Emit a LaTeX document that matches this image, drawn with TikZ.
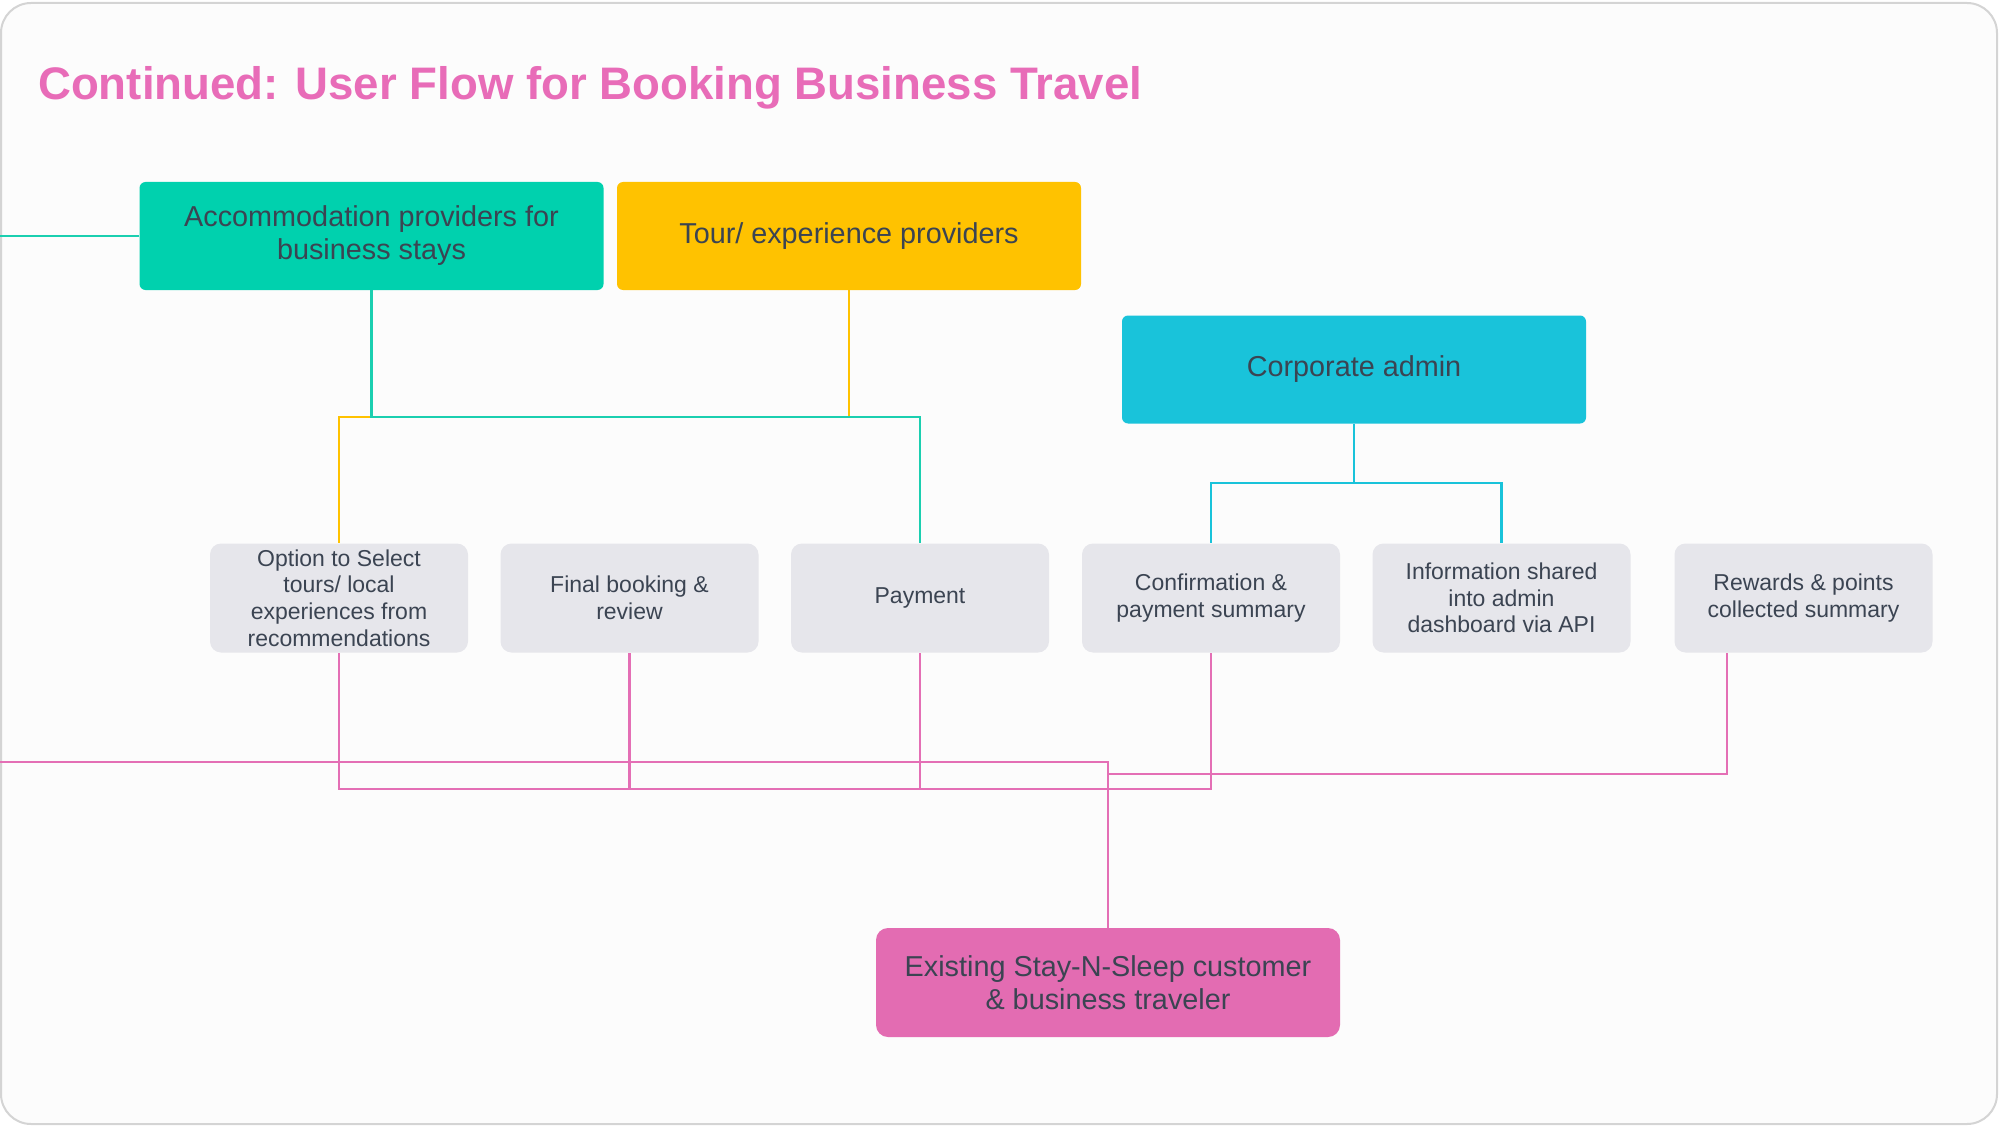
\documentclass[tikz,border=0pt]{standalone}
\usepackage{fontspec}
\setmainfont{Liberation Sans}
\begin{document}
\begin{tikzpicture}[x=1pt,y=-1pt,
  box/.style={rounded corners=6pt,inner sep=0pt,align=center,text=txt,
    font=\fontsize{28.8}{33}\selectfont,minimum width=464pt,minimum height=108pt},
  gbox/.style={rounded corners=11pt,inner sep=0pt,align=center,text=txt,fill=grayb,
    font=\fontsize{23}{26.7}\selectfont,minimum width=258pt,minimum height=109pt},
  conn/.style={line width=2.2pt},
]
\definecolor{txt}{HTML}{3B4452}
\definecolor{tealc}{HTML}{00D1AE}
\definecolor{teall}{HTML}{1BCFB0}
\definecolor{yell}{HTML}{FFC200}
\definecolor{cyanc}{HTML}{19C3DA}
\definecolor{pinkc}{HTML}{E36CB2}
\definecolor{pinkl}{HTML}{E46FB5}
\definecolor{grayb}{HTML}{E6E6EB}
\definecolor{titlec}{HTML}{E86CB8}
\definecolor{bgc}{HTML}{FCFCFC}
\definecolor{framec}{HTML}{D4D4D4}
\useasboundingbox (0,0) rectangle (2000,1126);
\draw[framec,fill=bgc,line width=2pt,rounded corners=30pt] (1,3) rectangle (1997,1124);
\node[anchor=base west,inner sep=0pt,text=titlec,font=\fontsize{45.6}{50}\selectfont\bfseries] (title) at (38,100) {Continued: User Flow for Booking Business Travel};
% boxes
\node[box,fill=tealc] (acc) at (371.5,236) {Accommodation providers for\\business stays};
\node[box,fill=yell] (tour) at (849,236) {Tour/ experience providers};
\node[box,fill=cyanc] (corp) at (1354,369.5) {Corporate admin};
\node[gbox] (opt) at (339,598) {Option to Select\\tours/ local\\experiences from\\recommendations};
\node[gbox] (fin) at (629.5,598) {Final booking \&\\review};
\node[gbox] (pay) at (920,598) {Payment};
\node[gbox] (conf) at (1211,598) {Confirmation \&\\payment summary};
\node[gbox] (info) at (1501.5,598) {Information shared\\into admin\\dashboard via API};
\node[gbox] (rew) at (1803.5,598) {Rewards \& points\\collected summary};
\node[box,fill=pinkc,rounded corners=12pt,minimum height=109pt] (cust) at (1108,982.5) {Existing Stay-N-Sleep customer\\\& business traveler};
% coordinates
\coordinate (lftA) at (0,236);
\coordinate (busA) at (0,417);
\coordinate (busB) at (0,483);
\coordinate (busC) at (0,789);
\coordinate (lftD) at (0,762);
\coordinate (busE) at (0,774);
\coordinate (rewpt) at ([xshift=-76.5pt]rew.south);
% connectors
\draw[conn,yell] (tour.south) -- (tour.south |- busA) -| (opt.north);
\draw[conn,teall] (acc.west) -- (lftA);
\draw[conn,teall] (acc.south) -- (acc.south |- busA) -| (pay.north);
\draw[conn,cyanc] (corp.south) -- (corp.south |- busB) -| (conf.north);
\draw[conn,cyanc] (corp.south |- busB) -| (info.north);
\draw[conn,pinkl] (cust.north) -- (cust.north |- busC) -| (opt.south);
\draw[conn,pinkl] (cust.north |- busC) -| (fin.south);
\draw[conn,pinkl] (cust.north |- busC) -| (pay.south);
\draw[conn,pinkl] (cust.north |- busC) -| (conf.south);
\draw[conn,pinkl] (cust.north) -- (cust.north |- lftD) -- (lftD);
\draw[conn,pinkl] (cust.north |- busE) -| (rewpt);
\end{tikzpicture}
\end{document}
